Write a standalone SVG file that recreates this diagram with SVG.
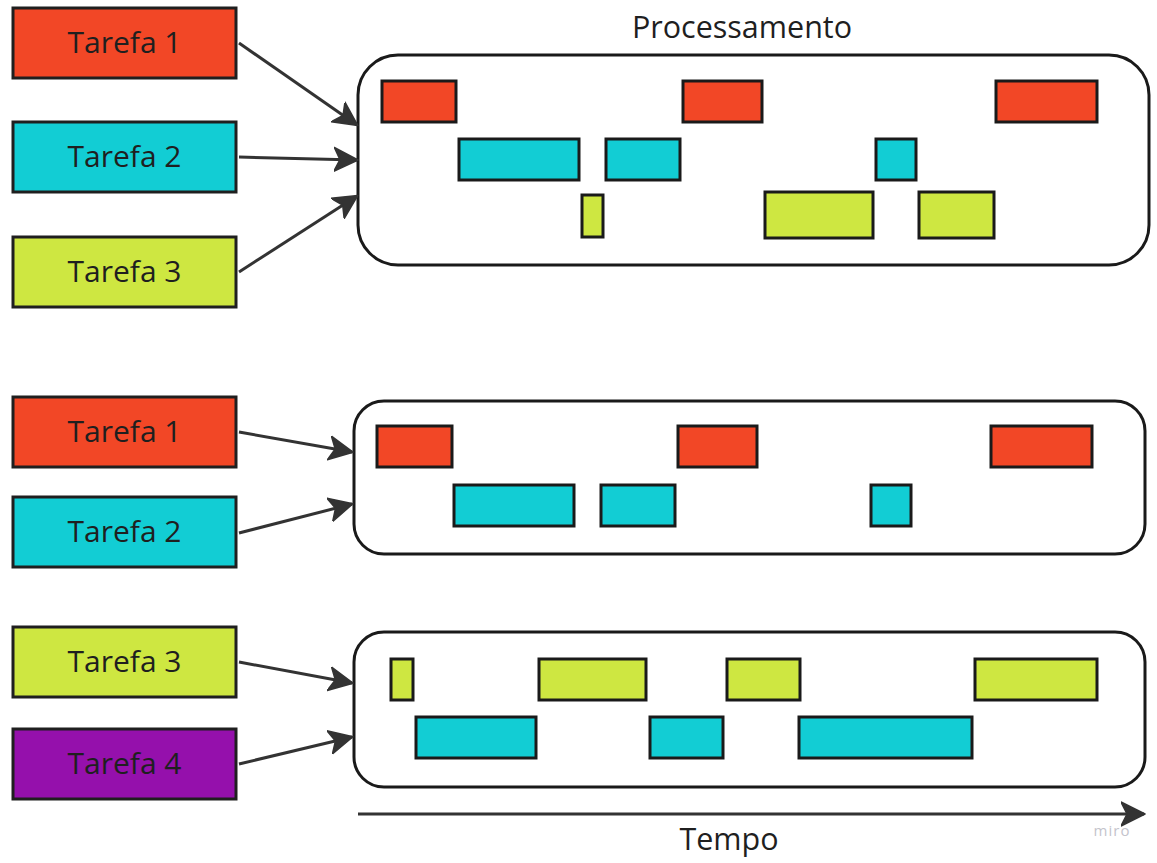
<svg xmlns="http://www.w3.org/2000/svg" width="1157" height="863" viewBox="0 0 1157 863">
<style>
  .node rect { stroke: #1f1f1f; stroke-width: 3; }
  .label { font-family: "Open Sans", "Noto Sans", sans-serif; font-size: 30px; fill: #1f1f1f; text-anchor: middle; }
  .title { font-family: "Open Sans", "Noto Sans", sans-serif; font-size: 30.5px; fill: #1f1f1f; text-anchor: middle; }
  .red { fill: #F24726; }
  .cyan { fill: #12CDD4; }
  .yellow { fill: #CEE741; }
  .purple { fill: #9510AC; }
  .container { fill: #ffffff; stroke: #1a1a1a; stroke-width: 3; }
  .blk { stroke: #1a1a1a; stroke-width: 3; }
  .conn line { stroke: #333333; stroke-width: 3; marker-end: url(#arrow); }
</style>
<defs>
  <marker id="arrow" markerUnits="userSpaceOnUse" markerWidth="26" markerHeight="26" refX="23" refY="13" orient="auto" viewBox="0 0 26 26">
    <path d="M0,1 L24,13 L0,25 L6,13 Z" fill="#333333" stroke="#333333" stroke-width="1.5" stroke-linejoin="round"/>
  </marker>
</defs>
<rect width="1157" height="863" fill="#ffffff"/>

<!-- Section 1 -->
<g id="node-t1a" class="node"><rect class="red" x="13" y="8" width="223" height="70"/><text class="label" x="124.5" y="53">Tarefa 1</text></g>
<g id="node-t2a" class="node"><rect class="cyan" x="13" y="122" width="223" height="70"/><text class="label" x="124.5" y="167">Tarefa 2</text></g>
<g id="node-t3a" class="node"><rect class="yellow" x="13" y="237" width="223" height="70"/><text class="label" x="124.5" y="282">Tarefa 3</text></g>

<text class="title" x="742" y="38">Processamento</text>
<g id="proc1">
  <rect class="container" x="358" y="55" width="791" height="210" rx="40" ry="40"/>
  <rect class="blk red" x="382" y="81" width="74" height="41"/>
  <rect class="blk red" x="683" y="81" width="79" height="41"/>
  <rect class="blk red" x="996" y="81" width="101" height="41"/>
  <rect class="blk cyan" x="459" y="139" width="120" height="41"/>
  <rect class="blk cyan" x="606" y="139" width="74" height="41"/>
  <rect class="blk cyan" x="876" y="139" width="40" height="41"/>
  <rect class="blk yellow" x="582" y="195" width="21" height="42"/>
  <rect class="blk yellow" x="765" y="192" width="108" height="46"/>
  <rect class="blk yellow" x="919" y="192" width="75" height="46"/>
</g>

<!-- Section 2 -->
<g id="node-t1b" class="node"><rect class="red" x="13" y="397" width="223" height="70"/><text class="label" x="124.5" y="442">Tarefa 1</text></g>
<g id="node-t2b" class="node"><rect class="cyan" x="13" y="497" width="223" height="70"/><text class="label" x="124.5" y="542">Tarefa 2</text></g>
<g id="proc2">
  <rect class="container" x="354" y="401" width="791" height="153" rx="30" ry="30"/>
  <rect class="blk red" x="377" y="426" width="75" height="41"/>
  <rect class="blk red" x="678" y="426" width="79" height="41"/>
  <rect class="blk red" x="991" y="426" width="101" height="41"/>
  <rect class="blk cyan" x="454" y="485" width="120" height="41"/>
  <rect class="blk cyan" x="601" y="485" width="74" height="41"/>
  <rect class="blk cyan" x="871" y="485" width="40" height="41"/>
</g>

<!-- Section 3 -->
<g id="node-t3b" class="node"><rect class="yellow" x="13" y="627" width="223" height="70"/><text class="label" x="124.5" y="672">Tarefa 3</text></g>
<g id="node-t4" class="node"><rect class="purple" x="13" y="729" width="223" height="70"/><text class="label" x="124.5" y="774">Tarefa 4</text></g>
<g id="proc3">
  <rect class="container" x="354" y="632" width="791" height="155" rx="30" ry="30"/>
  <rect class="blk yellow" x="391" y="659" width="22" height="41"/>
  <rect class="blk yellow" x="539" y="659" width="107" height="41"/>
  <rect class="blk yellow" x="727" y="659" width="73" height="41"/>
  <rect class="blk yellow" x="975" y="659" width="122" height="41"/>
  <rect class="blk cyan" x="416" y="717" width="120" height="41"/>
  <rect class="blk cyan" x="650" y="717" width="73" height="41"/>
  <rect class="blk cyan" x="799" y="717" width="173" height="41"/>
</g>

<g id="connectors" class="conn">
  <line x1="239" y1="43" x2="357" y2="125"/>
  <line x1="239" y1="157" x2="357" y2="160"/>
  <line x1="239" y1="272" x2="357" y2="196"/>
  <line x1="239" y1="432" x2="352" y2="452"/>
  <line x1="239" y1="533" x2="352" y2="504"/>
  <line x1="239" y1="662" x2="352" y2="683"/>
  <line x1="239" y1="764" x2="352" y2="737"/>
  <line x1="358" y1="814" x2="1144" y2="814"/>
</g>

<text class="title" x="729" y="850">Tempo</text>
<text x="1112" y="836" font-family="Open Sans, sans-serif" font-size="15" fill="#c4c4cc" text-anchor="middle" letter-spacing="1">miro</text>
</svg>
